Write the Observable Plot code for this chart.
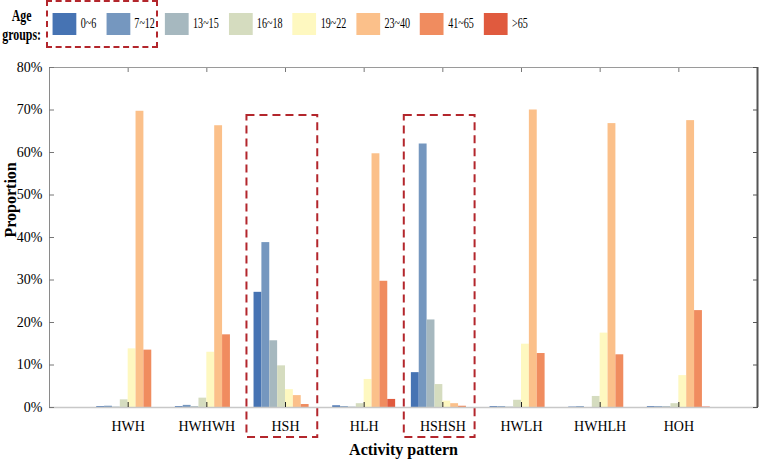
<!DOCTYPE html>
<html>
<head>
<meta charset="utf-8">
<script src="https://cdn.jsdelivr.net/npm/d3@7"></script>
<script src="https://cdn.jsdelivr.net/npm/@observablehq/plot@0.6"></script>
<style>
  html, body { margin: 0; padding: 0; background: #fff; }
  #wrap { position: relative; width: 759px; height: 460px; overflow: hidden; font-family: "Liberation Serif", "Times New Roman", serif; }
  #legend { position: absolute; left: 0; top: 0; height: 48px; width: 1100px; transform: scaleX(0.72); transform-origin: 0 0; display: flex; align-items: center; }
  #legend .title { font-weight: bold; font-size: 16.5px; line-height: 19px; text-align: center; width: 60px; margin-right: 13px; margin-top: 2px; }
  #legend .item { display: flex; align-items: center; margin-right: 14px; }
  #legend .sw { width: 33px; height: 22px; margin-right: 6px; }
  #legend .lab { font-size: 14px; }
  #legbox { position: absolute; left: 46px; top: 0px; width: 108px; height: 44px; border: 2px dashed #b3262c; }
  #chart { position: absolute; left: 0; top: 50px; }
</style>
</head>
<body>
<div id="wrap">
  <div id="legend"></div>
  <div id="legbox"></div>
  <div id="chart"></div>
</div>
<script>
const patterns = ["HWH", "HWHWH", "HSH", "HLH", "HSHSH", "HWLH", "HWHLH", "HOH"];
const ageGroups = ["0~6", "7~12", "13~15", "16~18", "19~22", "23~40", "41~65", ">65"];
const ageColors = ["#4673b3", "#7597bf", "#a6b8bf", "#d5dcbf", "#fef8c0", "#fbc08a", "#f08c5f", "#e05a3e"];
const yTicks = [0, 0.1, 0.2, 0.3, 0.4, 0.5, 0.6, 0.7, 0.8];
const highlighted = ["HSH", "HSHSH"];

// Proportions (%) per age group, in the order of `patterns`
const age0_6   = [0.2, 0.2, 27.1, 0.4, 8.2, 0.2, 0.1, 0.2];
const age7_12  = [0.3, 0.5, 38.8, 0.2, 62.0, 0.2, 0.2, 0.2];
const age13_15 = [0.1, 0.2, 15.7, 0.1, 20.6, 0.1, 0.0, 0.2];
const age16_18 = [1.8, 2.2, 9.8, 0.9, 5.4, 1.7, 2.6, 0.9];
const age19_22 = [13.8, 13.0, 4.2, 6.6, 1.5, 14.9, 17.5, 7.5];
const age23_40 = [69.7, 66.3, 2.8, 59.7, 0.9, 70.0, 66.8, 67.5];
const age41_65 = [13.5, 17.1, 0.7, 29.7, 0.3, 12.7, 12.4, 22.8];
const age65p   = [0.0, 0.0, 0.0, 1.9, 0.0, 0.0, 0.0, 0.1];
const series = [age0_6, age7_12, age13_15, age16_18, age19_22, age23_40, age41_65, age65p];

const data = [];
patterns.forEach((p, gi) => {
  ageGroups.forEach((a, ai) => {
    data.push({pattern: p, gi: gi + 1, age: a, ai, value: series[ai][gi] / 100});
  });
});

// Legend
const legend = document.getElementById("legend");
const t = document.createElement("div");
t.className = "title";
t.innerHTML = "Age<br>groups:";
legend.appendChild(t);
ageGroups.forEach((a, i) => {
  const it = document.createElement("div");
  it.className = "item";
  const sw = document.createElement("div");
  sw.className = "sw";
  sw.style.background = ageColors[i];
  const lb = document.createElement("span");
  lb.className = "lab";
  lb.textContent = a;
  it.appendChild(sw); it.appendChild(lb);
  legend.appendChild(it);
});

const hl = highlighted.map(p => ({pattern: p, gi: patterns.indexOf(p) + 1}));
const gridTicks = patterns.map((p, i) => i + 1);

const chart = Plot.plot({
  width: 759,
  height: 410,
  marginTop: 17,
  marginBottom: 53,
  marginLeft: 49,
  marginRight: 2,
  style: {fontFamily: "Liberation Serif, Times New Roman, serif", fontSize: "14px", color: "#000", background: "#fff"},
  x: {domain: [0, 9]},
  y: {domain: [0, 0.8]},
  color: {domain: ageGroups, range: ageColors},
  marks: [
    Plot.rectY(data, {
      x1: d => d.gi + (d.ai - 4) * 0.1,
      x2: d => d.gi + (d.ai - 3) * 0.1,
      y1: 0, y2: "value",
      fill: "age"
    }),
    Plot.ruleY([0], {stroke: "#c8c8c8", strokeWidth: 1.5}),
    Plot.ruleY([0.8], {stroke: "#9a9a9a"}),
    Plot.ruleX([0], {stroke: "#8a8a8a"}),
    Plot.ruleX([9], {stroke: "#555", strokeWidth: 2}),
    Plot.axisY({ticks: yTicks, tickFormat: d3.format(".0%"), tickSize: 0, tickPadding: 7, label: null, fontSize: 14}),
    Plot.axisY({ticks: yTicks, tickSize: -5, text: null, label: null, stroke: "#777"}),
    Plot.axisY({anchor: "right", ticks: yTicks, tickSize: -5, text: null, label: null, stroke: "#555"}),
    Plot.axisX({ticks: gridTicks, tickFormat: i => patterns[i - 1], tickSize: 0, tickPadding: 14, label: null, fontSize: 14}),
    Plot.axisX({ticks: gridTicks, tickSize: -5, text: null, label: null, stroke: "#222"}),
    Plot.axisX({anchor: "top", ticks: gridTicks, tickSize: -4, text: null, label: null, stroke: "#777"}),
    Plot.rect(hl, {
      x1: d => d.gi - 0.49, x2: d => d.gi + 0.41,
      y1: -0.0706, y2: 0.687,
      fill: "none", stroke: "#b3262c", strokeWidth: 2, strokeDasharray: "8,5", clip: false
    }),
    Plot.text(["Proportion"], {frameAnchor: "left", rotate: -90, dx: -39, fontWeight: "bold", fontSize: 16}),
    Plot.text(["Activity pattern"], {frameAnchor: "bottom", dy: 47, fontWeight: "bold", fontSize: 16})
  ]
});
document.getElementById("chart").appendChild(chart);
</script>
</body>
</html>
